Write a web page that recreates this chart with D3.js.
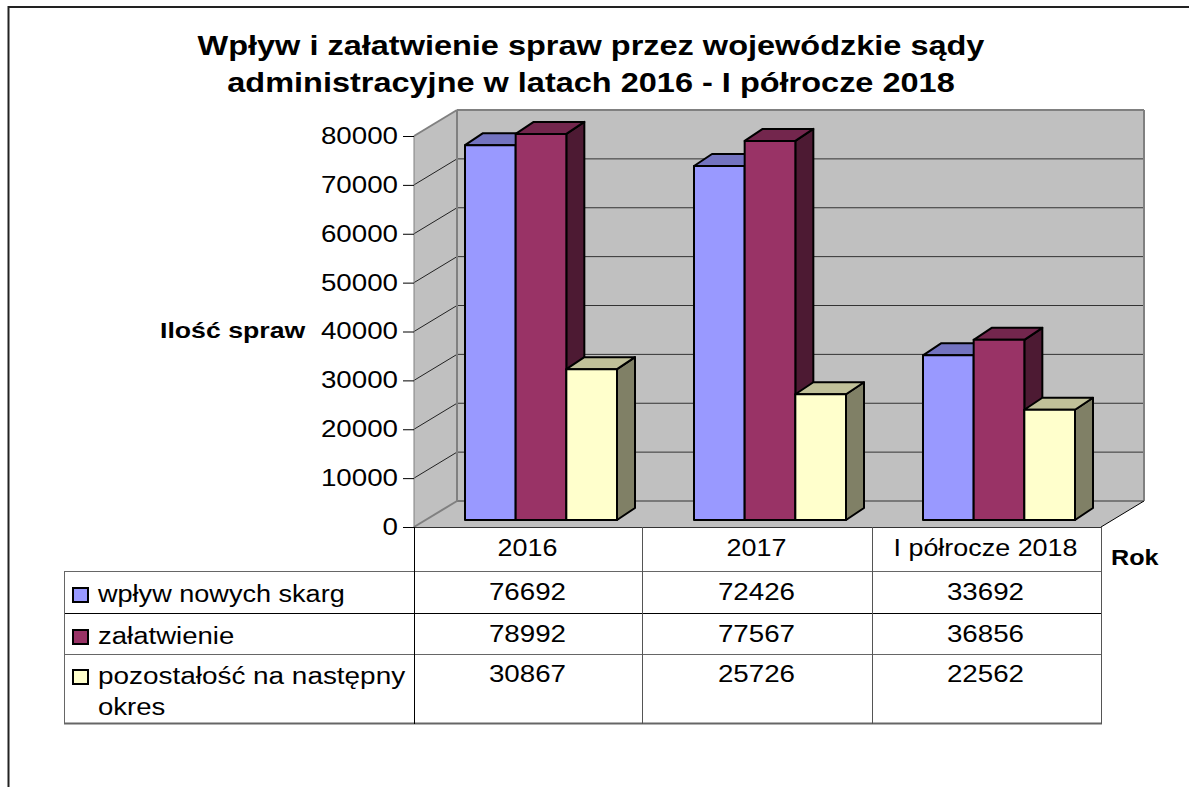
<!DOCTYPE html>
<html>
<head>
<meta charset="utf-8">
<script src="https://cdn.jsdelivr.net/npm/d3@7"></script>
<style>
	html, body { margin: 0; padding: 0; background: #fff; }
	svg { display: block; }
	text { font-family: "Liberation Sans", Arial, sans-serif; fill: #000; }
</style>
</head>
<body>
<svg id="main-svg" width="1189" height="787"></svg>
<script>
const categories = ['2016', '2017', 'I półrocze 2018'];
const seriesNames = ['wpływ nowych skarg', 'załatwienie', 'pozostałość na następny okres'];
const inflow = [76692, 72426, 33692];
const resolved = [78992, 77567, 36856];
const remaining = [30867, 25726, 22562];
const yTicks = [0, 10000, 20000, 30000, 40000, 50000, 60000, 70000, 80000];
const titleLines = ['Wpływ i załatwienie spraw przez wojewódzkie sądy', 'administracyjne w latach 2016 - I półrocze 2018'];

const seriesValues = [inflow, resolved, remaining];
const frontColors = ['#9999ff', '#993366', '#ffffcc'];
const topColors = ['#7373c0', '#73264d', '#c0c099'];
const sideColors = ['#4d4d80', '#4d1a33', '#808066'];

const svg = d3.select('#main-svg');
const labelSize = 23;

// the reference text is wider than the font, so stretch it after measuring
function stretch(sel, k) {
	sel.each(function() {
		let len = this.getComputedTextLength();
		d3.select(this)
			.attr('textLength', len * k)
			.attr('lengthAdjust', 'spacingAndGlyphs');
	});
}

// page frame, only left and top show in the picture
svg.append('path')
	.attr('d', 'M8.5,787V7H1189')
	.attr('fill', 'none')
	.attr('stroke', '#222')
	.attr('stroke-width', 2);

// scales: front of the floor, wall depth and bar depth
const x = d3.scaleBand().domain(categories).range([414, 1101]);
const y = d3.scaleLinear().domain([0, 80000]).range([527, 136]);
const wallDx = 43, wallDy = -26;
const barDx = 18, barDy = -12;
const barBase = -7;
const barX = d3.scaleBand().domain(d3.range(3)).range([51, 203]);

// walls
const left = x.range()[0], right = x.range()[1];
const y0 = y(0), yMax = y(80000);
svg.append('path')
	.attr('d', `M${left},${y0}L${left},${yMax}L${left + wallDx},${yMax + wallDy}L${right + wallDx},${yMax + wallDy}L${right + wallDx},${y0 + wallDy}L${right},${y0}Z`)
	.attr('fill', '#c0c0c0');

// gridlines on the back wall and the side wall
const grid = svg.append('g');
grid.selectAll('.back')
	.data(yTicks)
	.enter().append('line')
	.attr('x1', left + wallDx)
	.attr('x2', right + wallDx)
	.attr('y1', d => y(d) + wallDy)
	.attr('y2', d => y(d) + wallDy)
	.attr('stroke', d => d == 80000 ? '#808080' : '#333')
	.attr('stroke-width', d => d == 80000 ? 2 : 1);
grid.selectAll('.side')
	.data(yTicks)
	.enter().append('line')
	.attr('x1', left)
	.attr('x2', left + wallDx)
	.attr('y1', d => y(d))
	.attr('y2', d => y(d) + wallDy)
	.attr('stroke', d => (d == 0 || d == 80000) ? '#808080' : '#222')
	.attr('stroke-width', d => (d == 0 || d == 80000) ? 2 : 1);

// wall edges
svg.append('line')
	.attr('x1', left).attr('x2', left)
	.attr('y1', y0).attr('y2', yMax)
	.attr('stroke', '#808080');
svg.append('path')
	.attr('d', `M${left + wallDx},${y0 + wallDy}V${yMax + wallDy}M${right + wallDx},${y0 + wallDy}V${yMax + wallDy}`)
	.attr('fill', 'none').attr('stroke', '#808080').attr('stroke-width', 2);
svg.append('line')
	.attr('x1', right).attr('y1', y0)
	.attr('x2', right + wallDx).attr('y2', y0 + wallDy)
	.attr('stroke', '#000');

// bars, drawn back to front so neighbours overlap as in a 3d chart
const bars = svg.append('g');
categories.forEach((cat, c) => {
	seriesValues.forEach((vals, s) => {
		const bx = x(cat) + barX(s);
		const bw = barX.bandwidth();
		const base = y(0) + barBase;
		const top = y(vals[c]) + barBase;
		const g = bars.append('g')
			.attr('stroke', '#000')
			.attr('stroke-width', 2)
			.attr('stroke-linejoin', 'round');
		g.append('path')
			.attr('d', `M${bx + bw},${top}l${barDx},${barDy}V${base + barDy}L${bx + bw},${base}Z`)
			.attr('fill', sideColors[s]);
		g.append('path')
			.attr('d', `M${bx},${top}l${barDx},${barDy}h${bw}l${-barDx},${-barDy}Z`)
			.attr('fill', topColors[s]);
		g.append('rect')
			.attr('x', bx).attr('y', top)
			.attr('width', bw).attr('height', base - top)
			.attr('fill', frontColors[s]);
	});
});

// value axis
const yAxis = d3.axisLeft(y).tickValues(yTicks).tickSize(11).tickPadding(5).tickFormat(d3.format('d'));
const axisG = svg.append('g')
	.attr('transform', `translate(${left},0)`)
	.call(yAxis);
axisG.select('.domain').remove();
axisG.selectAll('.tick line').attr('stroke', '#000');
axisG.selectAll('.tick text')
	.attr('font-size', labelSize)
	.attr('font-family', '"Liberation Sans", Arial, sans-serif')
	.call(stretch, 1.205);

// title and axis names
svg.append('g').selectAll('text')
	.data(titleLines)
	.enter().append('text')
	.attr('x', 591)
	.attr('y', (d, i) => 55 + i * 37)
	.attr('text-anchor', 'middle')
	.attr('font-size', 27.5)
	.attr('font-weight', 'bold')
	.text(d => d)
	.call(stretch, 1.181);
svg.append('text')
	.attr('x', 160).attr('y', 338)
	.attr('font-size', 22)
	.attr('font-weight', 'bold')
	.text('Ilość spraw')
	.call(stretch, 1.212);
svg.append('text')
	.attr('x', 1111).attr('y', 565)
	.attr('font-size', 22)
	.attr('font-weight', 'bold')
	.text('Rok')
	.call(stretch, 1.145);

// data table
const tableLeft = 64;
const rowLines = [571, 613, 654, 723];
const table = svg.append('g').attr('stroke-width', 1);
table.selectAll('.row')
	.data(rowLines)
	.enter().append('line')
	.attr('x1', tableLeft)
	.attr('x2', right + 1)
	.attr('y1', d => d + 0.5)
	.attr('y2', d => d + 0.5)
	.attr('stroke', (d, i) => i == 1 ? '#000' : '#666')
	.attr('stroke-width', (d, i) => i == 3 ? 2 : 1);
table.append('line')
	.attr('x1', left).attr('x2', right)
	.attr('y1', y0 + 0.5).attr('y2', y0 + 0.5)
	.attr('stroke', '#333');
table.append('line')
	.attr('x1', tableLeft + 0.5).attr('x2', tableLeft + 0.5)
	.attr('y1', rowLines[0]).attr('y2', rowLines[3])
	.attr('stroke', '#666');
table.selectAll('.col')
	.data([left, x(categories[1]) - 1, x(categories[2]), right])
	.enter().append('line')
	.attr('x1', d => Math.round(d) + 0.5)
	.attr('x2', d => Math.round(d) + 0.5)
	.attr('y1', y0)
	.attr('y2', rowLines[3] + 1)
	.attr('stroke', (d, i) => i == 0 ? '#000' : '#555');

// header row and values
svg.append('g').selectAll('text')
	.data(categories)
	.enter().append('text')
	.attr('x', d => x(d) + x.bandwidth() / 2 - 1)
	.attr('y', 556)
	.attr('text-anchor', 'middle')
	.attr('font-size', labelSize)
	.text(d => d)
	.call(stretch, 1.17);
const rowText = [600, 642, 682];
seriesValues.forEach((vals, s) => {
	svg.append('g').selectAll('text')
		.data(vals)
		.enter().append('text')
		.attr('x', (d, i) => x(categories[i]) + x.bandwidth() / 2 - 1)
		.attr('y', rowText[s])
		.attr('text-anchor', 'middle')
		.attr('font-size', labelSize)
		.text(d => d)
		.call(stretch, 1.205);
});

// legend keys and labels in the first column
seriesNames.forEach((name, s) => {
	svg.append('rect')
		.attr('x', 73).attr('y', rowText[s] - 12)
		.attr('width', 15).attr('height', 14)
		.attr('fill', frontColors[s])
		.attr('stroke', '#000')
		.attr('stroke-width', 2);
});
const legendLabels = [['wpływ nowych skarg'], ['załatwienie'], ['pozostałość na następny', 'okres']];
const legendStretch = [[1.177], [1.197], [1.213, 1.197]];
legendLabels.forEach((lines, s) => {
	lines.forEach((line, l) => {
		svg.append('text')
			.attr('x', 98)
			.attr('y', rowText[s] + l * 31 + 2)
			.attr('font-size', labelSize)
			.text(line)
			.call(stretch, legendStretch[s][l]);
	});
});
</script>
</body>
</html>
